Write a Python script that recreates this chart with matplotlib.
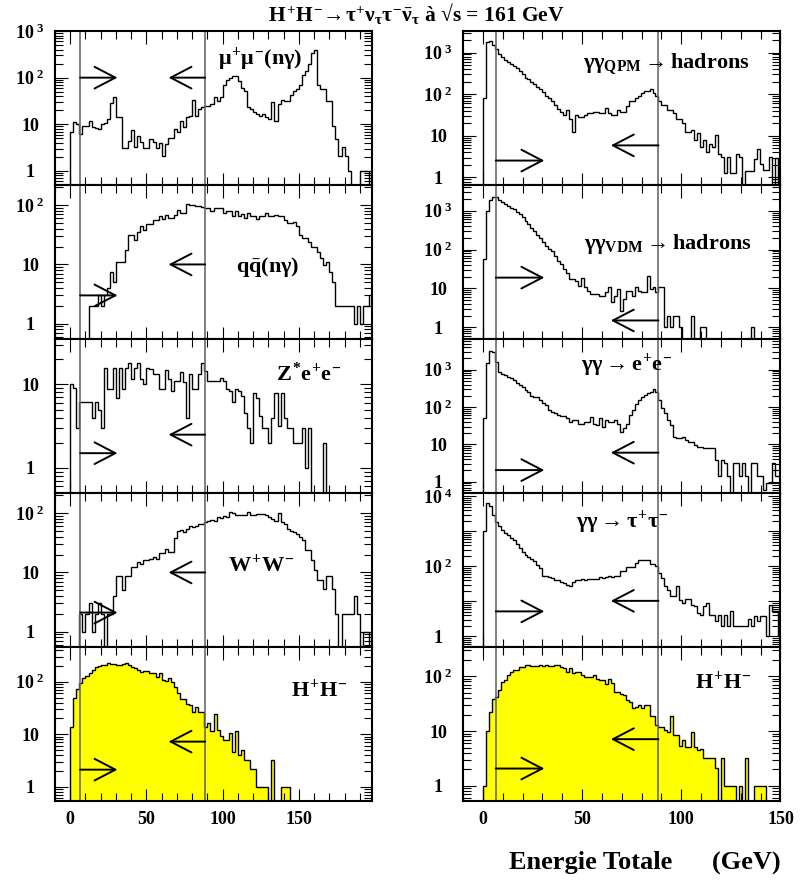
import numpy as np
import matplotlib
matplotlib.use('Agg')
import matplotlib.pyplot as plt
from matplotlib.ticker import FixedLocator, MultipleLocator, LogLocator, NullFormatter, FuncFormatter

plt.rcParams['font.family'] = ['Liberation Serif', 'DejaVu Serif']
plt.rcParams['font.weight'] = 'bold'
plt.rcParams['mathtext.fontset'] = 'custom'
plt.rcParams['mathtext.rm'] = 'Liberation Serif:bold'
plt.rcParams['mathtext.it'] = 'Liberation Serif:bold'
plt.rcParams['mathtext.bf'] = 'Liberation Serif:bold'

# energy bins (GeV)
left_edges = np.arange(0, 201, 2.0)
right_edges = np.linspace(0, 150, 101)

# left column: 2 GeV bins
mumu = [6.7, 11, 10, 6.2, 9.3, 9.3, 12, 8.6, 8.5, 8,
        10, 10.5, 13, 29, 38, 14, 14, 3.1, 3.1, 4.4,
        7.5, 3.2, 5.7, 4.1, 3.1, 3.1, 4.8, 4.1, 3.1, 3.9,
        2.1, 3.8, 5.2, 5.2, 7.9, 6.7, 12, 8.8, 14, 15,
        33, 15, 21, 23, 25, 25, 27, 38, 32, 39,
        68, 87, 100, 108, 108, 85, 61, 53, 23, 21,
        18, 17, 15, 17, 14, 13, 30, 12, 27, 33,
        32, 32, 43, 53, 58, 68, 112, 140, 200, 330,
        390, 68, 58, 58, 32, 32, 9, 4.8, 2.1, 3.2,
        2.1, 1, 0, 0, 0, 1, 1, 1, 0, 0]
qqbar = [0, 0, 0, 0, 0, 0, 2, 2, 2, 3,
         2, 3, 4, 7.4, 5, 11, 11, 11, 17.6, 32,
         32, 26, 36, 44, 38, 48, 48, 57, 57, 65,
         59, 69, 62, 62, 69, 84, 74, 74, 107, 102,
         102, 96, 96, 92, 90, 90, 81, 90, 90, 90,
         74, 79, 79, 66, 79, 65, 71, 61, 74, 65,
         65, 59, 66, 66, 74, 65, 65, 69, 66, 66,
         57, 50, 50, 53, 44, 32, 28, 28, 24, 20,
         20, 16.5, 13, 9.8, 11, 7.5, 5, 2, 2, 2,
         2, 2, 2, 1, 2, 1, 2, 2, 3, 2]
zee = [10, 9.1, 3, 6.1, 6.1, 6.1, 6.1, 4, 6.1, 5,
       3, 15.8, 8.9, 8.9, 15.8, 6.9, 15.8, 8.9, 15.8, 17.9,
       11.7, 15.8, 17.9, 11.7, 10, 15.8, 15.4, 13.2, 13.2, 8.9,
       8.9, 15, 11.5, 8.3, 11, 11, 14, 10.7, 4, 13.2,
       8.9, 8.9, 13.2, 18.2, 14.4, 11, 11, 11, 11, 12,
       11, 8.9, 8.3, 6.1, 8.9, 8.3, 7.2, 4.6, 3, 2,
       7.9, 6.9, 4.2, 3, 3, 2, 4, 7.9, 3.2, 7.9,
       4, 3, 3, 2, 2, 2, 3, 1, 3, 0,
       0, 0, 0, 2, 0, 0, 0, 0, 0, 0,
       0, 0, 0, 0, 0, 0, 0, 0, 0, 0]
ww = [0, 0, 0, 2, 1, 2, 3, 1, 2, 3,
      2, 0, 2, 2, 4, 8.7, 8.7, 5, 8.7, 8.7,
      12.5, 12.5, 15, 14, 16, 16, 17, 18, 17, 21,
      21, 25, 22, 22, 38, 50, 52, 48, 55, 60,
      58, 62, 67, 65, 72, 75, 78, 74, 85, 82,
      90, 88, 105, 100, 95, 92, 95, 95, 105, 92,
      95, 98, 96, 98, 95, 88, 80, 75, 100, 70,
      67, 55, 50, 48, 45, 40, 35, 24, 24, 16,
      11, 7.5, 7.5, 5.2, 8.7, 8.7, 5.2, 2, 0, 2,
      2, 2, 2, 4, 2, 0, 1, 1, 0, 0]
hh_left = [13.5, 50, 72, 93, 116, 128, 144, 167, 188, 200,
           208, 208, 225, 215, 215, 208, 208, 215, 225, 208,
           190, 179, 167, 155, 160, 160, 150, 144, 124, 148,
           110, 104, 116, 100, 78, 60, 46, 46, 37, 36,
           27, 33, 26, 26, 13.5, 16.5, 11.6, 24, 12, 9.2,
           7.7, 7.7, 10.4, 4.6, 11.6, 4, 5, 3.2, 3.2, 2.2,
           2.2, 1, 1, 1, 1, 0, 3.2, 0, 0, 1,
           1, 1, 0, 0, 0, 0, 0, 0, 0, 0,
           0, 0, 0, 0, 0, 0, 0, 0, 0, 0,
           0, 0, 0, 0, 0, 0, 0, 0, 0, 0]

# right column: 1.5 GeV bins
qpm = [81, 1770, 1850, 1480, 1220, 950, 800, 650, 580, 520,
       480, 420, 365, 300, 250, 228, 200, 172, 150, 130,
       110, 89, 80, 67, 55, 45, 38, 32, 42, 26,
       12.5, 32, 29, 29, 32, 35, 35, 38, 38, 35,
       35, 46, 35, 32, 32, 42, 38, 38, 51, 67,
       67, 81, 89, 108, 118, 118, 130, 108, 89, 67,
       56, 56, 42, 42, 35, 26, 26, 20, 12.5, 12.5,
       13.7, 7.8, 11.4, 5.4, 7.8, 4.1, 6.5, 5.4, 10.4, 3.7,
       3.1, 1.3, 3.1, 1.3, 1.3, 3.7, 3.1, 0, 1.4, 1.4,
       1.4, 2.8, 4.9, 2.1, 1.5, 1.5, 3.1, 0, 3, 0]
vdm = [57, 1000, 1880, 2200, 2200, 1880, 1700, 1500, 1350, 1200,
       1100, 950, 820, 680, 550, 450, 370, 300, 240, 200,
       160, 125, 105, 93, 70, 52, 42, 32, 25, 18,
       17.5, 16, 11.8, 19, 10.6, 8.6, 7.2, 7.2, 7.2, 6.5,
       6.5, 7.9, 10.6, 4.4, 6.5, 9.7, 2.7, 5.3, 8.6, 8.6,
       6.5, 10.6, 8.6, 7.9, 7.9, 21, 9.7, 10.6, 7.9, 10.6,
       10.6, 1, 2, 1, 2, 2, 1, 0, 0, 0,
       2, 0, 0, 1, 1, 0, 0, 0, 0, 0,
       0, 0, 0, 0, 0, 0, 0, 0, 0, 0,
       1, 0, 0, 0, 0, 0, 0, 0, 0, 0]
ggee = [50, 1470, 3200, 3000, 1630, 880, 750, 720, 650, 600,
        530, 430, 400, 335, 290, 257, 200, 190, 180, 154,
        130, 113, 83, 75, 70, 61, 57, 57, 50, 40,
        45, 45, 36, 36, 40, 40, 53, 36, 33, 50,
        30, 46, 40, 40, 45, 36, 22, 27, 35, 61,
        83, 120, 154, 190, 210, 230, 257, 298, 257, 154,
        92, 70, 46, 33, 16, 14.5, 14.5, 16, 13, 11.8,
        11.8, 9.6, 8.7, 8.7, 7.8, 7.8, 7.8, 7.8, 3.8, 1.4,
        3.8, 3.1, 1.4, 0, 3.1, 3.1, 1.4, 3.1, 1.4, 0,
        3.1, 3.1, 1.4, 1.4, 0.6, 0.9, 0.9, 3.1, 1.4, 1.4]
ggtautau = [1000, 6400, 5200, 3000, 1900, 1400, 1100, 900, 800, 650,
            580, 450, 330, 260, 210, 190, 160, 140, 110, 90,
            54, 54, 50, 46, 42, 40, 37, 33, 30, 27,
            37, 42, 42, 43, 42, 43, 43, 45, 43, 50,
            48, 50, 52, 50, 54, 54, 72, 72, 95, 95,
            95, 124, 155, 155, 150, 150, 120, 120, 105, 64,
            46, 27, 21, 14, 14, 27, 11, 9, 12, 12,
            8, 7.2, 4.6, 4.2, 7.2, 9, 4.2, 4.2, 2.7, 4.2,
            2, 4.2, 2, 5.5, 2, 2, 2, 2, 2, 3.1,
            2, 3.9, 2.7, 3.9, 3.9, 1, 8, 5.2, 5.2, 1]
hh_right = [1, 10, 22, 39, 42, 55, 79, 84, 105, 120,
            132, 132, 144, 144, 159, 159, 155, 150, 150, 159,
            155, 159, 150, 150, 159, 162, 148, 138, 120, 138,
            112, 120, 120, 105, 97, 97, 95, 105, 87, 84,
            84, 71, 87, 76, 52, 52, 48, 45, 36, 34,
            26, 27.5, 30, 26, 30, 30, 19, 18.6, 12.8, 11.6,
            11.6, 10.3, 9.6, 19, 8.4, 8.4, 5.3, 6.8, 5.1, 5.1,
            9.6, 5.1, 4.5, 4.8, 3.2, 3.2, 3.2, 3.2, 2.1, 0,
            3.2, 1, 1, 1, 1, 0, 1, 0, 3.2, 0,
            0, 1, 1, 1, 1, 0, 0, 0, 0, 0]

cuts = [6.5, 88.5]

# (values, label, ylim, labelled decades, right-arrow level, left-arrow level, label pos, filled)
left_panels = [
    (mumu, r'$\mu^{+}\mu^{-}(n\gamma)$', (0.5, 1000), [0, 1, 2, 3], 100, 100, (0.647, 0.82), False),
    (qqbar, r'$q\bar{q}(n\gamma)$', (0.55, 220), [0, 1, 2], 3.0, 10, (0.672, 0.47), False),
    (zee, r'$Z^{*}e^{+}e^{-}$', (0.5, 35), [0, 1], 1.5, 2.5, (0.80, 0.77), False),
    (ww, r'$W^{+}W^{-}$', (0.55, 220), [0, 1, 2], 2.1, 10, (0.65, 0.53), False),
    (hh_left, r'$H^{+}H^{-}$', (0.53, 460), [0, 1, 2], 2.1, 7.2, (0.835, 0.72), True),
]
right_panels = [
    (qpm, r'$\gamma\gamma_{QPM}\rightarrow$hadrons', (0.66, 3300), [0, 1, 2, 3], 2.55, 5.9, (0.64, 0.78), False),
    (vdm, r'$\gamma\gamma_{VDM}\rightarrow$hadrons', (0.5, 4600), [0, 1, 2, 3], 19, 1.5, (0.645, 0.62), False),
    (ggee, r'$\gamma\gamma\rightarrow e^{+}e^{-}$', (0.5, 6600), [0, 1, 2, 3], 2.05, 6.0, (0.515, 0.83), False),
    (ggtautau, r'$\gamma\gamma\rightarrow\tau^{+}\tau^{-}$', (0.5, 12500), [0, 2, 4], 5.2, 10.4, (0.50, 0.81), False),
    (hh_right, r'$H^{+}H^{-}$', (0.53, 340), [0, 1, 2], 2.07, 7.1, (0.82, 0.77), True),
]


def ylabel_fmt(shown):
    def f(v, pos):
        e = int(round(np.log10(v)))
        if e not in shown:
            return ''
        if e == 0:
            return '1'
        if e == 1:
            return '10'
        return r'$10^{\ %d}$' % e
    return f


def draw_panel(ax, edges, vals, label, ylim, shown, yr, yl, lpos, filled, xmax, bottom_row):
    vals = np.asarray(vals, dtype=float)
    v = np.where(vals > 0, vals, 1e-3)
    ax.set_yscale('log')
    if filled:
        ax.stairs(v, edges, fill=True, color='#ffff00', baseline=1e-3, lw=0)
    ax.stairs(v, edges, color='k', lw=1.0, baseline=1e-3)
    for c in cuts:
        ax.axvline(c, color='0.42', lw=1.2)
    ap = dict(arrowstyle='->,head_length=1.5,head_width=0.78', lw=1.4, color='k',
              shrinkA=0, shrinkB=0)
    ax.annotate('', xy=(31, yr), xytext=(cuts[0], yr), arrowprops=ap)
    ax.annotate('', xy=(64.5, yl), xytext=(cuts[1], yl), arrowprops=ap)
    ax.text(lpos[0], lpos[1], label, transform=ax.transAxes, ha='center', va='center',
            fontsize=16, fontweight='bold')
    ax.set_xlim(-10, xmax)
    ax.set_ylim(*ylim)
    lo = int(np.floor(np.log10(ylim[0])))
    hi = int(np.ceil(np.log10(ylim[1])))
    ax.yaxis.set_major_locator(FixedLocator([10.0 ** e for e in range(lo, hi + 1)]))
    ax.yaxis.set_minor_locator(LogLocator(base=10, subs=np.arange(2, 10), numticks=20))
    ax.yaxis.set_major_formatter(FuncFormatter(ylabel_fmt(shown)))
    ax.yaxis.set_minor_formatter(NullFormatter())
    ax.xaxis.set_major_locator(MultipleLocator(50))
    ax.xaxis.set_minor_locator(MultipleLocator(10))
    ax.tick_params(which='both', direction='in', top=True, right=True, width=0.8)
    ax.tick_params(which='major', length=9)
    ax.tick_params(which='minor', length=5.5)
    ax.tick_params(axis='y', which='major', pad=18, labelsize=13)
    ax.tick_params(axis='x', which='major', pad=7, labelsize=13, labelbottom=bottom_row)
    for lab in ax.get_yticklabels():
        lab.set_horizontalalignment('center')
    for s in ax.spines.values():
        s.set_linewidth(1.5)


fig = plt.figure(figsize=(8.03, 8.81), dpi=100)
W, H = 803.0, 881.0
rows = [31, 185, 339, 493, 647, 801]

for r in range(5):
    bottom = 1 - rows[r + 1] / H
    height = (rows[r + 1] - rows[r]) / H
    axL = fig.add_axes([55 / W, bottom, 317 / W, height])
    axR = fig.add_axes([463 / W, bottom, 317.5 / W, height])
    draw_panel(axL, left_edges, *left_panels[r], xmax=198, bottom_row=(r == 4))
    draw_panel(axR, right_edges, *right_panels[r], xmax=150, bottom_row=(r == 4))

fig.text(0.519, 0.985,
         r'$H^{+}H^{-}\!\rightarrow\!\tau^{+}\nu_{\tau}\tau^{-}\bar{\nu}_{\tau}$ à √s = 161 GeV',
         ha='center', va='center', fontsize=15.5, fontweight='bold')
fig.text(0.972, 0.021, 'Energie Totale      (GeV)', ha='right', va='center',
         fontsize=19, fontweight='bold')

fig.savefig('out.png', dpi=100)
